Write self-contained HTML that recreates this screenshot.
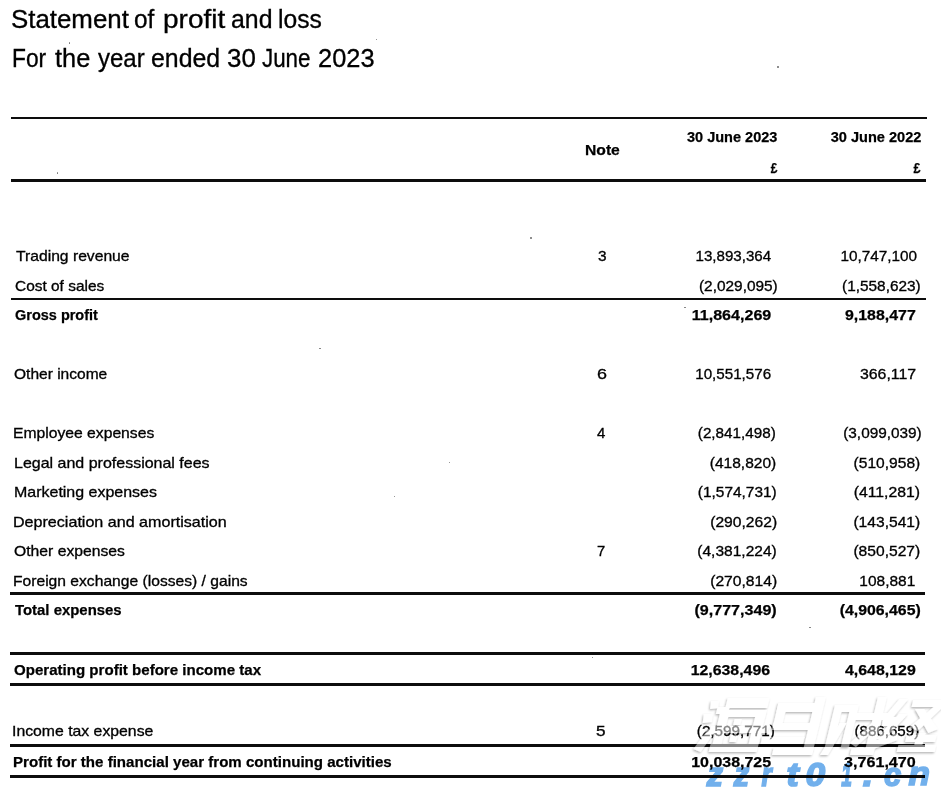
<!DOCTYPE html>
<html><head><meta charset="utf-8"><style>
html,body{margin:0;padding:0;background:#fff;}
body{width:941px;height:791px;position:relative;overflow:hidden;font-family:"Liberation Sans", sans-serif;color:#000;}
.t{position:absolute;white-space:nowrap;height:0;line-height:0;transform-origin:0 0;}
.rr{transform-origin:100% 0;}
.b{font-weight:700;}
.t span{display:inline-block;line-height:0;vertical-align:baseline;-webkit-text-stroke:0.32px #000;}
.b span{-webkit-text-stroke:0.25px #000;}
.r{position:absolute;background:#0d0d0d;}
</style></head><body>
<div class="t" style="font-size:25px;left:11.11px;top:19.00px;transform:scaleX(1.0342);"><span>Statement</span></div>
<div class="t" style="font-size:25px;left:134.41px;top:19.00px;transform:scaleX(0.9747);"><span>of</span></div>
<div class="t" style="font-size:25px;left:162.98px;top:19.00px;transform:scaleX(1.1195);"><span>profit</span></div>
<div class="t" style="font-size:25px;left:230.65px;top:19.00px;transform:scaleX(0.9939);"><span>and</span></div>
<div class="t" style="font-size:25px;left:278.23px;top:19.00px;transform:scaleX(0.9864);"><span>loss</span></div>
<div class="t" style="font-size:25px;left:11.72px;top:58.00px;transform:scaleX(0.9110);"><span>For</span></div>
<div class="t" style="font-size:25px;left:54.67px;top:58.00px;transform:scaleX(1.0140);"><span>the</span></div>
<div class="t" style="font-size:25px;left:97.63px;top:58.00px;transform:scaleX(0.9598);"><span>year</span></div>
<div class="t" style="font-size:25px;left:150.66px;top:58.00px;transform:scaleX(0.9938);"><span>ended</span></div>
<div class="t" style="font-size:25px;left:226.56px;top:58.00px;transform:scaleX(1.0370);"><span>30</span></div>
<div class="t" style="font-size:25px;left:261.75px;top:58.00px;transform:scaleX(0.8944);"><span>June</span></div>
<div class="t" style="font-size:25px;left:317.57px;top:58.00px;transform:scaleX(1.0160);"><span>2023</span></div>
<div class="t b" style="font-size:15px;left:584.75px;top:150.00px;transform:scaleX(1.0445);"><span>Note</span></div>
<div class="t b rr" style="font-size:15px;right:163.68px;top:137.00px;transform:scaleX(0.9681);"><span>30 June 2023</span></div>
<div class="t b rr" style="font-size:15px;right:164.17px;top:168.00px;transform:scaleX(0.7945);"><span>£</span></div>
<div class="t b rr" style="font-size:15px;right:19.95px;top:137.00px;transform:scaleX(0.9717);"><span>30 June 2022</span></div>
<div class="t b rr" style="font-size:15px;right:20.54px;top:168.00px;transform:scaleX(0.8348);"><span>£</span></div>
<div class="t" style="font-size:15px;left:15.78px;top:256.00px;transform:scaleX(1.0449);"><span>Trading revenue</span></div>
<div class="t" style="font-size:15px;left:15.26px;top:286.00px;transform:scaleX(1.0293);"><span>Cost of sales</span></div>
<div class="t b" style="font-size:15px;left:14.84px;top:315.00px;transform:scaleX(0.9656);"><span>Gross profit</span></div>
<div class="t" style="font-size:15px;left:14.11px;top:374.00px;transform:scaleX(1.0356);"><span>Other income</span></div>
<div class="t" style="font-size:15px;left:13.30px;top:433.00px;transform:scaleX(1.0456);"><span>Employee expenses</span></div>
<div class="t" style="font-size:15px;left:13.92px;top:463.00px;transform:scaleX(1.0661);"><span>Legal and professional fees</span></div>
<div class="t" style="font-size:15px;left:13.50px;top:492.00px;transform:scaleX(1.0649);"><span>Marketing expenses</span></div>
<div class="t" style="font-size:15px;left:12.62px;top:522.00px;transform:scaleX(1.0724);"><span>Depreciation and amortisation</span></div>
<div class="t" style="font-size:15px;left:13.53px;top:551.00px;transform:scaleX(1.0471);"><span>Other expenses</span></div>
<div class="t" style="font-size:15px;left:12.76px;top:581.00px;transform:scaleX(1.0423);"><span>Foreign exchange (losses) / gains</span></div>
<div class="t b" style="font-size:15px;left:14.91px;top:610.00px;transform:scaleX(0.9942);"><span>Total expenses</span></div>
<div class="t b" style="font-size:15px;left:13.71px;top:670.00px;transform:scaleX(1.0047);"><span>Operating profit before income tax</span></div>
<div class="t" style="font-size:15px;left:11.98px;top:731.00px;transform:scaleX(1.0527);"><span>Income tax expense</span></div>
<div class="t b" style="font-size:15px;left:13.25px;top:762.00px;transform:scaleX(1.0053);"><span>Profit for the financial year from continuing activities</span></div>
<div class="t" style="font-size:15px;left:598.21px;top:256.00px;transform:scaleX(1.0271);"><span>3</span></div>
<div class="t" style="font-size:15px;left:596.82px;top:374.00px;transform:scaleX(1.1943);"><span>6</span></div>
<div class="t" style="font-size:15px;left:597.05px;top:433.00px;"><span>4</span></div>
<div class="t" style="font-size:15px;left:596.81px;top:551.00px;transform:scaleX(0.9838);"><span>7</span></div>
<div class="t" style="font-size:15px;left:595.78px;top:731.00px;transform:scaleX(1.1423);"><span>5</span></div>
<div class="t rr" style="font-size:15px;right:169.95px;top:256.00px;transform:scaleX(1.0068);"><span>13,893,364</span></div>
<div class="t rr" style="font-size:15px;right:163.52px;top:286.00px;transform:scaleX(1.0264);"><span>(2,029,095)</span></div>
<div class="t b rr" style="font-size:15px;right:169.51px;top:315.00px;transform:scaleX(1.0709);"><span>11,864,269</span></div>
<div class="t rr" style="font-size:15px;right:169.56px;top:374.00px;transform:scaleX(1.0105);"><span>10,551,576</span></div>
<div class="t rr" style="font-size:15px;right:164.80px;top:433.00px;transform:scaleX(1.0153);"><span>(2,841,498)</span></div>
<div class="t rr" style="font-size:15px;right:164.69px;top:463.00px;transform:scaleX(1.0343);"><span>(418,820)</span></div>
<div class="t rr" style="font-size:15px;right:164.33px;top:492.00px;transform:scaleX(1.0278);"><span>(1,574,731)</span></div>
<div class="t rr" style="font-size:15px;right:164.19px;top:522.00px;transform:scaleX(1.0438);"><span>(290,262)</span></div>
<div class="t rr" style="font-size:15px;right:164.23px;top:551.00px;transform:scaleX(1.0349);"><span>(4,381,224)</span></div>
<div class="t rr" style="font-size:15px;right:164.19px;top:581.00px;transform:scaleX(1.0438);"><span>(270,814)</span></div>
<div class="t b rr" style="font-size:15px;right:164.03px;top:610.00px;transform:scaleX(1.0731);"><span>(9,777,349)</span></div>
<div class="t b rr" style="font-size:15px;right:170.54px;top:670.00px;transform:scaleX(1.0579);"><span>12,638,496</span></div>
<div class="t rr" style="font-size:15px;right:166.03px;top:731.00px;transform:scaleX(1.0154);"><span>(2,599,771)</span></div>
<div class="t b rr" style="font-size:15px;right:170.18px;top:762.00px;transform:scaleX(1.0633);"><span>10,038,725</span></div>
<div class="t rr" style="font-size:15px;right:23.87px;top:256.00px;transform:scaleX(1.0207);"><span>10,747,100</span></div>
<div class="t rr" style="font-size:15px;right:19.97px;top:286.00px;transform:scaleX(1.0254);"><span>(1,558,623)</span></div>
<div class="t b rr" style="font-size:15px;right:25.73px;top:315.00px;transform:scaleX(1.0606);"><span>9,188,477</span></div>
<div class="t rr" style="font-size:15px;right:25.33px;top:374.00px;transform:scaleX(1.0585);"><span>366,117</span></div>
<div class="t rr" style="font-size:15px;right:19.64px;top:433.00px;transform:scaleX(1.0232);"><span>(3,099,039)</span></div>
<div class="t rr" style="font-size:15px;right:20.34px;top:463.00px;transform:scaleX(1.0371);"><span>(510,958)</span></div>
<div class="t rr" style="font-size:15px;right:20.48px;top:492.00px;transform:scaleX(1.0531);"><span>(411,281)</span></div>
<div class="t rr" style="font-size:15px;right:20.59px;top:522.00px;transform:scaleX(1.0405);"><span>(143,541)</span></div>
<div class="t rr" style="font-size:15px;right:20.59px;top:551.00px;transform:scaleX(1.0405);"><span>(850,527)</span></div>
<div class="t rr" style="font-size:15px;right:26.06px;top:581.00px;transform:scaleX(1.0301);"><span>108,881</span></div>
<div class="t b rr" style="font-size:15px;right:20.49px;top:610.00px;transform:scaleX(1.0565);"><span>(4,906,465)</span></div>
<div class="t b rr" style="font-size:15px;right:25.63px;top:670.00px;transform:scaleX(1.0605);"><span>4,648,129</span></div>
<div class="t rr" style="font-size:15px;right:21.85px;top:731.00px;transform:scaleX(1.0075);"><span>(886,659)</span></div>
<div class="t b rr" style="font-size:15px;right:25.58px;top:762.00px;transform:scaleX(1.0734);"><span>3,761,470</span></div>
<div class="r" style="top:116.5px;height:2.2px;left:11px;width:916px"></div>
<div class="r" style="top:178.6px;height:3.4px;left:11px;width:915px"></div>
<div class="r" style="top:297.6px;height:2.5px;left:10.5px;width:915.5px"></div>
<div class="r" style="top:592.4px;height:2.5px;left:10px;width:915px"></div>
<div class="r" style="top:652.2px;height:3.0px;left:10px;width:915px"></div>
<div class="r" style="top:683.3px;height:3.0px;left:10px;width:915px"></div>
<div class="r" style="top:743.5px;height:3.0px;left:10px;width:915px"></div>
<div class="r" style="top:774.5px;height:3.2px;left:10px;width:915px"></div>
<div style="position:absolute;left:68.8px;top:42.2px;width:1.6px;height:1.6px;border-radius:50%;background:#777"></div><div style="position:absolute;left:375.6px;top:38.5px;width:1.6px;height:1.6px;border-radius:50%;background:#777"></div><div style="position:absolute;left:777.2px;top:66.2px;width:1.6px;height:1.6px;border-radius:50%;background:#777"></div><div style="position:absolute;left:56.7px;top:172.2px;width:1.6px;height:1.6px;border-radius:50%;background:#777"></div><div style="position:absolute;left:530.2px;top:237.2px;width:1.6px;height:1.6px;border-radius:50%;background:#777"></div><div style="position:absolute;left:319.2px;top:347.7px;width:1.6px;height:1.6px;border-radius:50%;background:#777"></div><div style="position:absolute;left:448.7px;top:461.6px;width:1.6px;height:1.6px;border-radius:50%;background:#777"></div><div style="position:absolute;left:393.8px;top:495.6px;width:1.6px;height:1.6px;border-radius:50%;background:#777"></div><div style="position:absolute;left:809.2px;top:626.7px;width:1.6px;height:1.6px;border-radius:50%;background:#777"></div><div style="position:absolute;left:684.2px;top:306.7px;width:1.6px;height:1.6px;border-radius:50%;background:#777"></div><div style="position:absolute;left:591.7px;top:656.7px;width:1.6px;height:1.6px;border-radius:50%;background:#777"></div>
<style>.bl{position:absolute;white-space:nowrap;height:0;font:italic 700 32.5px "Liberation Sans",sans-serif;line-height:0;color:#72b0ec;transform-origin:100% 0;mix-blend-mode:multiply}
.bl span{display:inline-block;line-height:0;-webkit-text-stroke:1.6px #72b0ec}</style><svg width="941" height="791" style="position:absolute;left:0;top:0">
<defs><filter id="sh" x="-10%" y="-10%" width="120%" height="120%"><feDropShadow dx="-1" dy="1.3" stdDeviation="0.9" flood-color="#000" flood-opacity="0.6"/></filter></defs>
<g filter="url(#sh)" opacity="0.5" fill="#fff"><g transform="translate(710 697) skewX(-13.6)"><path d="M2 4 L10 4 L11 11 L3 12Z"/><path d="M-2 17 L7 17 L8 25 L-1 26Z"/><path d="M-4 52 L6 32 L13 35 L4 55Z"/><path d="M18 1H60V11H18Z"/><path d="M10 10H22V17H10Z"/><path d="M20 13H60V20H20Z"/><path d="M14 13H23V54H14Z"/><path d="M50 13H60V55H50Z"/><path d="M8 29H66V36H8Z"/><path d="M12 47H58V55H12Z"/><path d="M30 22H37V28H30Z"/><path d="M30 38H37V45H30Z"/></g><g transform="translate(772 697) skewX(-13.6)"><path d="M8 6H50V15H8Z"/><path d="M8 6H17V33H8Z"/><path d="M8 26H46V33H8Z"/><path d="M44 0H54V58H44Z"/><path d="M14 51H54V58H14Z"/><path d="M0 40H42V47H0Z"/></g><g transform="translate(832 697) skewX(-13.6)"><path d="M6 8H28V15H6Z"/><path d="M5 8H13V50H5Z"/><path d="M21 8H29V50H21Z"/><path d="M14 26 L21 26 L10 58 L2 58Z"/><path d="M28 16H62V23H28Z"/><path d="M46 0H55V58H46Z"/><path d="M32 51H55V58H32Z"/><path d="M46 26 L53 30 L36 50 L29 46Z"/></g><g transform="translate(888 697) skewX(-13.6)"><path d="M12 2 L21 2 L9 22 L0 22Z"/><path d="M0 20 L22 20 L15 29 L1 29Z"/><path d="M15 17 L24 17 L7 42 L-2 42Z"/><path d="M-4 44 L18 36 L20 43 L-2 52Z"/><path d="M26 3H58V10H26Z"/><path d="M50 8 L59 8 L38 34 L29 30Z"/><path d="M30 12 L39 12 L58 32 L49 36Z"/><path d="M28 38H58V45H28Z"/><path d="M38 36H46V54H38Z"/><path d="M22 48H60V55H22Z"/></g></g>
</svg>
<div class="bl" style="right:218.00px;top:775.04px;transform:scaleX(1.0000)"><span>z</span></div>
<div class="bl" style="right:191.60px;top:775.04px;transform:scaleX(0.9463)"><span>z</span></div>
<div class="bl" style="right:169.00px;top:775.04px;transform:scaleX(0.8048)"><span>r</span></div>
<div class="bl" style="right:142.20px;top:775.04px;transform:scaleX(1.1283)"><span>t</span></div>
<div class="bl" style="right:116.00px;top:775.24px;transform:scaleX(1.0848)"><span>0</span></div>
<div class="bl" style="right:88.80px;top:775.24px;transform:scaleX(0.5950)"><span>1</span></div>
<div class="bl" style="right:68.00px;top:775.24px;transform:scaleX(1.1429)"><span>.</span></div>
<div class="bl" style="right:40.00px;top:774.74px;transform:scaleX(0.9474)"><span>c</span></div>
<div class="bl" style="right:11.60px;top:774.44px;transform:scaleX(1.0789)"><span>n</span></div>
</body></html>
